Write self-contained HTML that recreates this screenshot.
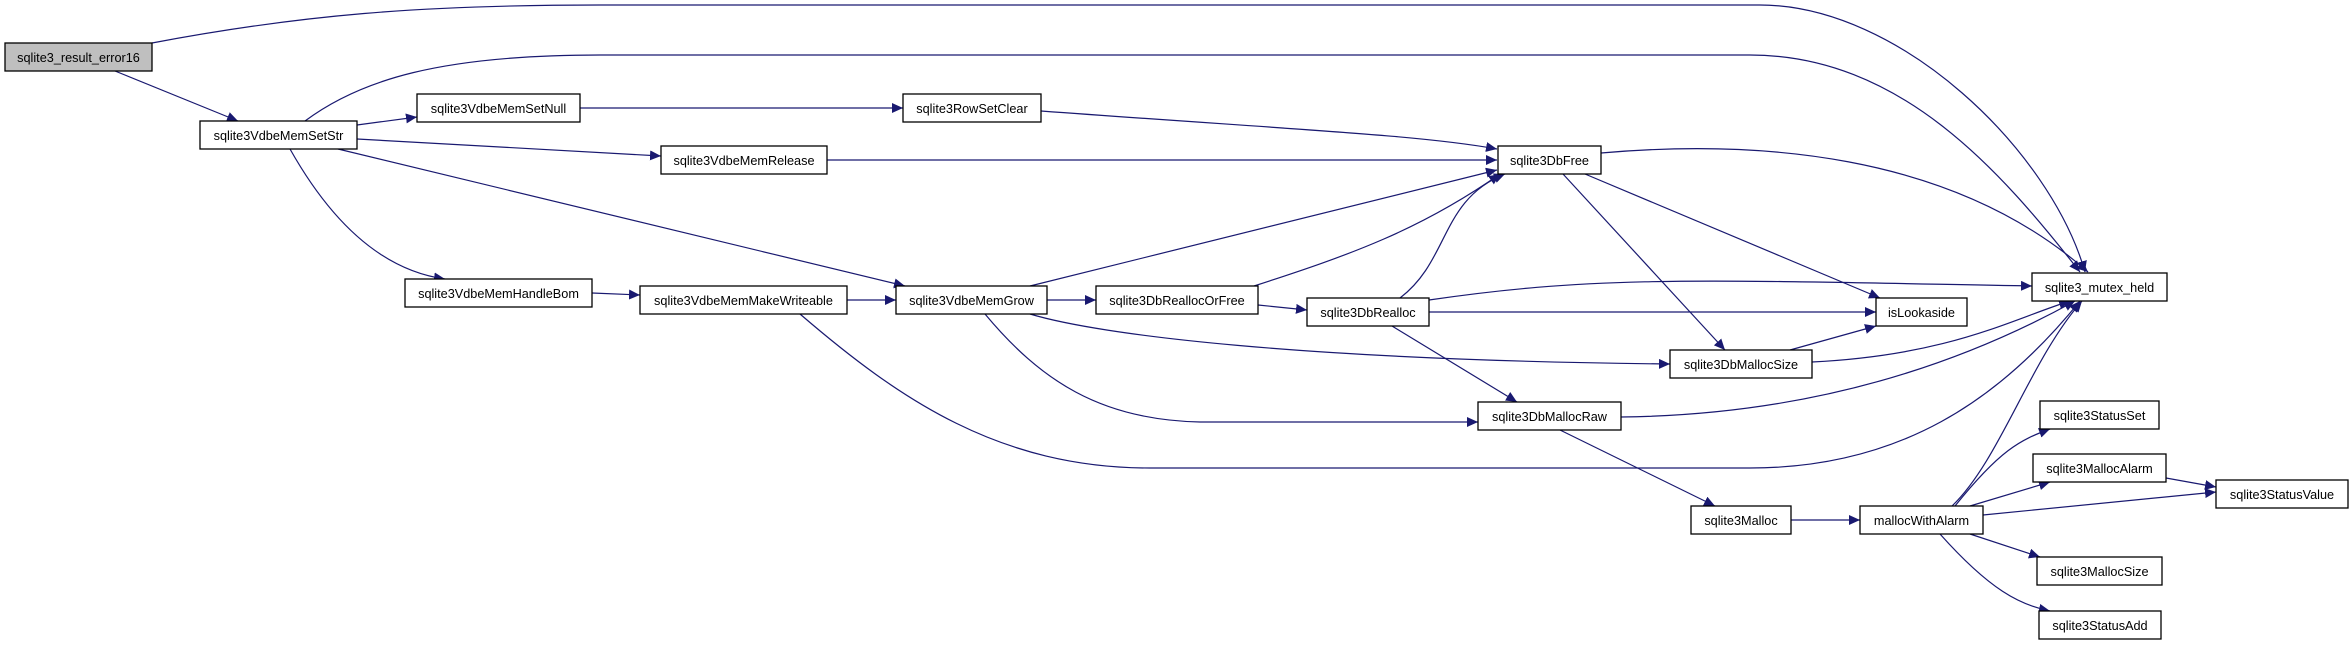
<!DOCTYPE html>
<html><head><meta charset="utf-8"><style>
html,body{margin:0;padding:0;background:#fff;}
svg{display:block;}
text{font-family:"Liberation Sans",sans-serif;font-size:12.7px;fill:#000;}
.n{fill:#fff;stroke:#000;stroke-width:1.3;}
.e{fill:none;stroke:#191970;stroke-width:1.2;}
</style></head><body>
<svg width="2349" height="645" viewBox="0 0 2349 645" xmlns="http://www.w3.org/2000/svg">
<defs>
<marker id="a" markerUnits="userSpaceOnUse" markerWidth="12" markerHeight="10" refX="11" refY="5" orient="auto">
<path d="M0,0 L11,5 L0,10 Z" fill="#191970"/>
</marker>
</defs>
<g class="e" marker-end="url(#a)">
<path d="M152,43 C300,15 420,5 600,5 L1760,5 C1900,5 2050,150 2085,272"/>
<path d="M115,71 L238,121"/>
<path d="M305,121 C360,80 440,55 600,55 L1750,55 C1900,55 2000,170 2080,272"/>
<path d="M357,125 L417,117"/>
<path d="M357,139 L661,156"/>
<path d="M338,149 L905,286"/>
<path d="M290,149 C330,220 380,270 445,279"/>
<path d="M580,108 L903,108"/>
<path d="M1041,111 C1300,130 1420,135 1497,149"/>
<path d="M827,160 L1497,160"/>
<path d="M1030,286 L1497,170"/>
<path d="M1047,300 L1096,300"/>
<path d="M1030,314 C1100,335 1300,360 1670,364"/>
<path d="M985,314 C1040,380 1100,420 1200,422 L1478,422"/>
<path d="M1254,286 C1350,255 1420,230 1500,174"/>
<path d="M1258,305 L1307,310"/>
<path d="M1400,298 C1450,260 1440,200 1505,174"/>
<path d="M1429,300 C1600,275 1700,280 2032,286"/>
<path d="M1429,312 L1876,312"/>
<path d="M1392,326 L1517,402"/>
<path d="M847,300 L896,300"/>
<path d="M800,314 C900,400 1000,468 1150,468 L1750,468 C1900,468 2000,400 2080,301"/>
<path d="M592,293 L640,295"/>
<path d="M1601,153 C1750,140 1950,150 2088,272"/>
<path d="M1585,174 L1880,298"/>
<path d="M1563,174 L1725,350"/>
<path d="M1790,350 L1876,326"/>
<path d="M1812,362 C1950,355 2010,320 2070,301"/>
<path d="M1621,417 C1800,415 1950,370 2075,301"/>
<path d="M1560,430 L1715,506"/>
<path d="M1791,520 L1860,520"/>
<path d="M1952,506 C2000,460 2030,360 2082,301"/>
<path d="M1955,506 C2000,450 2020,440 2050,429"/>
<path d="M1970,506 L2050,482"/>
<path d="M1983,515 L2216,492"/>
<path d="M1970,534 L2040,557"/>
<path d="M1940,534 C1990,590 2020,605 2050,611"/>
<path d="M2166,478 L2216,487"/>
</g>
<g>
<rect class="n" x="5" y="43" width="147" height="28" style="fill:#bfbfbf"/><text x="78.5" y="62" text-anchor="middle">sqlite3_result_error16</text>
<rect class="n" x="200" y="121" width="157" height="28"/><text x="278.5" y="140" text-anchor="middle">sqlite3VdbeMemSetStr</text>
<rect class="n" x="417" y="94" width="163" height="28"/><text x="498.5" y="113" text-anchor="middle">sqlite3VdbeMemSetNull</text>
<rect class="n" x="661" y="146" width="166" height="28"/><text x="744" y="165" text-anchor="middle">sqlite3VdbeMemRelease</text>
<rect class="n" x="405" y="279" width="187" height="28"/><text x="498.5" y="298" text-anchor="middle">sqlite3VdbeMemHandleBom</text>
<rect class="n" x="640" y="286" width="207" height="28"/><text x="743.5" y="305" text-anchor="middle">sqlite3VdbeMemMakeWriteable</text>
<rect class="n" x="903" y="94" width="138" height="28"/><text x="972" y="113" text-anchor="middle">sqlite3RowSetClear</text>
<rect class="n" x="1498" y="146" width="103" height="28"/><text x="1549.5" y="165" text-anchor="middle">sqlite3DbFree</text>
<rect class="n" x="896" y="286" width="151" height="28"/><text x="971.5" y="305" text-anchor="middle">sqlite3VdbeMemGrow</text>
<rect class="n" x="1096" y="286" width="162" height="28"/><text x="1177" y="305" text-anchor="middle">sqlite3DbReallocOrFree</text>
<rect class="n" x="1307" y="298" width="122" height="28"/><text x="1368" y="317" text-anchor="middle">sqlite3DbRealloc</text>
<rect class="n" x="1478" y="402" width="143" height="28"/><text x="1549.5" y="421" text-anchor="middle">sqlite3DbMallocRaw</text>
<rect class="n" x="2032" y="273" width="135" height="28"/><text x="2099.5" y="292" text-anchor="middle">sqlite3_mutex_held</text>
<rect class="n" x="1876" y="298" width="91" height="28"/><text x="1921.5" y="317" text-anchor="middle">isLookaside</text>
<rect class="n" x="1670" y="350" width="142" height="28"/><text x="1741" y="369" text-anchor="middle">sqlite3DbMallocSize</text>
<rect class="n" x="2040" y="401" width="119" height="28"/><text x="2099.5" y="420" text-anchor="middle">sqlite3StatusSet</text>
<rect class="n" x="2033" y="454" width="133" height="28"/><text x="2099.5" y="473" text-anchor="middle">sqlite3MallocAlarm</text>
<rect class="n" x="2216" y="480" width="132" height="28"/><text x="2282" y="499" text-anchor="middle">sqlite3StatusValue</text>
<rect class="n" x="1691" y="506" width="100" height="28"/><text x="1741" y="525" text-anchor="middle">sqlite3Malloc</text>
<rect class="n" x="1860" y="506" width="123" height="28"/><text x="1921.5" y="525" text-anchor="middle">mallocWithAlarm</text>
<rect class="n" x="2037" y="557" width="125" height="28"/><text x="2099.5" y="576" text-anchor="middle">sqlite3MallocSize</text>
<rect class="n" x="2039" y="611" width="122" height="28"/><text x="2100" y="630" text-anchor="middle">sqlite3StatusAdd</text>
</g>
</svg>
</body></html>
